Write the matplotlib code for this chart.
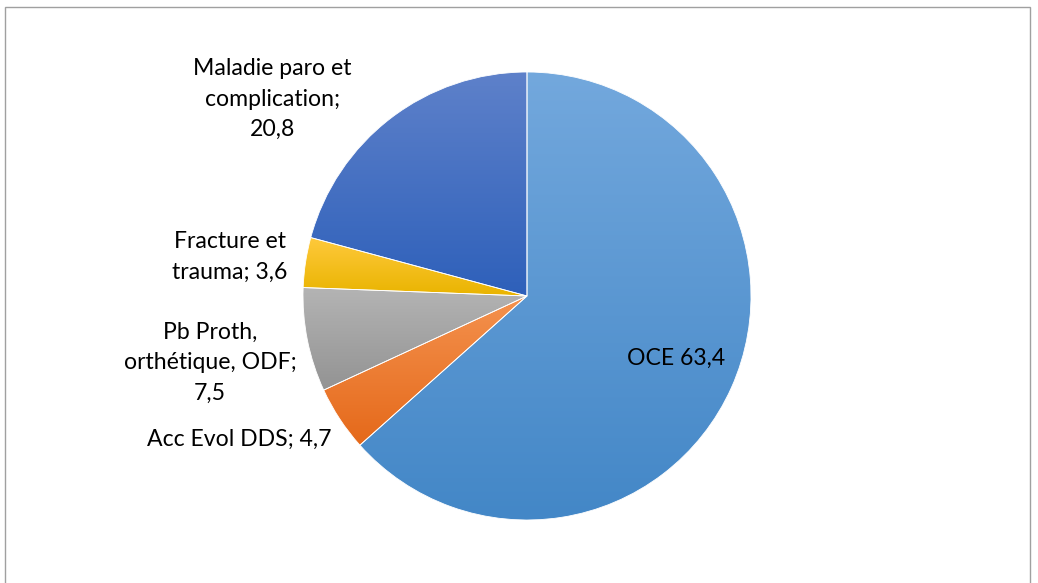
import matplotlib
matplotlib.use('Agg')
import matplotlib.pyplot as plt
from matplotlib.patches import Rectangle
from matplotlib.colors import LinearSegmentedColormap
import numpy as np

# data, clockwise from 12 o'clock
labels = ['OCE', 'Acc Evol DDS', 'Pb Proth,\northétique, ODF',
          'Fracture et\ntrauma', 'Maladie paro et\ncomplication']
values = [63.4, 4.7, 7.5, 3.6, 20.8]
label_texts = ['OCE 63,4', 'Acc Evol DDS; 4,7', 'Pb Proth,\northétique, ODF;\n7,5',
               'Fracture et\ntrauma; 3,6', 'Maladie paro et\ncomplication;\n20,8']

# gradient colours (top, bottom) per slice
grads = [('#73a8dd', '#4387c7'), ('#f4924f', '#e5691a'), ('#b4b4b4', '#939393'),
         ('#ffc93c', '#e9b400'), ('#5e81ca', '#2e60ba')]

# where each label sits (axes data units, pie radius = 1)
label_pos = [(0.665, -0.277), (-1.286, -0.638), (-1.415, -0.299),
             (-1.326, 0.174), (-1.138, 0.879)]

plt.rcParams['font.family'] = ['Lato', 'DejaVu Sans']

fig = plt.figure(figsize=(10.38, 5.83), dpi=100)
fig.patches.append(Rectangle((5/1038, -0.01), 1025/1038, 1 - 7/583 + 0.01,
                             transform=fig.transFigure, fill=False,
                             edgecolor='#a0a0a0', linewidth=1))

ax = fig.add_axes([303/1038, 63/583, 448/1038, 448/583])
wedges, _ = ax.pie(values, startangle=90, counterclock=False,
                   wedgeprops=dict(edgecolor='white', linewidth=0.6))

for w, (c_top, c_bot) in zip(wedges, grads):
    bb = w.get_path().get_extents()
    cmap = LinearSegmentedColormap.from_list('g', [c_top, c_bot])
    grad = np.linspace(0, 1, 256).reshape(-1, 1)
    im = ax.imshow(grad, cmap=cmap, aspect='auto',
                   extent=(bb.x0, bb.x1, bb.y0, bb.y1), origin='upper', zorder=1)
    im.set_clip_path(w)
    w.set_facecolor('none')
    w.set_zorder(2)

for txt, (x, y) in zip(label_texts, label_pos):
    ax.text(x, y, txt, ha='center', va='center', fontsize=16.6,
            linespacing=1.55, color='black', zorder=3)

ax.set_xlim(-1, 1)
ax.set_ylim(-1, 1)
ax.set_aspect('equal')
ax.axis('off')

fig.savefig('out.png', dpi=100)
